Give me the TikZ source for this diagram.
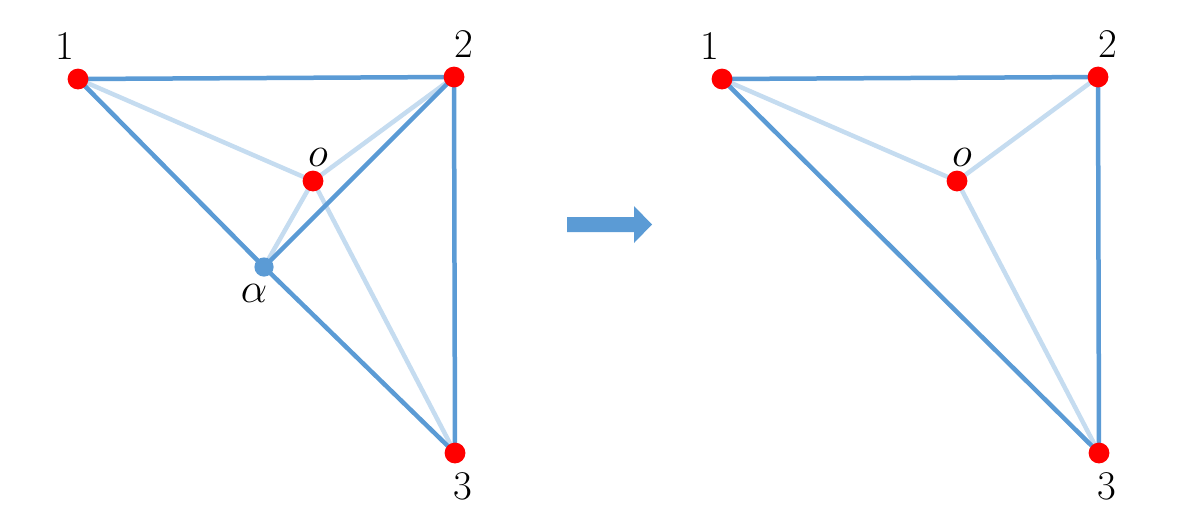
\documentclass[tikz,border=0pt]{standalone}
\usepackage{graphicx}
\definecolor{edgeblue}{RGB}{91,155,213}
\definecolor{paleblue}{RGB}{197,220,240}
\tikzset{
	dark/.style={draw=edgeblue,line width=3.2pt},
	pale/.style={draw=paleblue,line width=3.2pt},
	vtx/.style={circle,fill=red,inner sep=0pt,minimum size=0.52cm},
	avtx/.style={circle,fill=edgeblue,inner sep=0pt,minimum size=0.48cm},
	lab/.style={font=\fontsize{29}{34}\selectfont,inner sep=0pt}
}
\newcommand{\biglab}[1]{\scalebox{1.2}{$#1$}}
\begin{document}
\begin{tikzpicture}[x=0.025cm,y=-0.025cm]
\useasboundingbox (0,0) rectangle (1203,521);
% left graph
\coordinate (l1) at (78,79);
\coordinate (l2) at (454,77);
\coordinate (l3) at (455,453);
\coordinate (lo) at (313,181);
\coordinate (la) at (264,267);
\draw[pale] (l1) -- (lo) (l2) -- (lo) (lo) -- (la) (lo) -- (l3);
\draw[dark] (l1) -- (l2) -- (l3) (l1) -- (la) -- (l3) (la) -- (l2);
\node[vtx] (n1) at (l1) {};
\node[vtx] (n2) at (l2) {};
\node[vtx] (n3) at (l3) {};
\node[vtx] (no) at (lo) {};
\node[avtx] (na) at (la) {};
\path
	(65,46) node[lab] (t1) {1}
	(464,44) node[lab] (t2) {2}
	(463,486) node[lab] (t3) {3}
	(318,157) node[lab] (to) {\biglab{o}}
	(254,293) node[lab] (ta) {\biglab{\alpha}};
% arrow
\fill[edgeblue] (567,217) -- (634,217) -- (634,206) -- (652,224.5) -- (634,243) -- (634,232) -- (567,232) -- cycle;
% right graph
\coordinate (r1) at (722,79);
\coordinate (r2) at (1098,77);
\coordinate (r3) at (1099,453);
\coordinate (ro) at (957,181);
\draw[pale] (r1) -- (ro) (r2) -- (ro) (ro) -- (r3);
\draw[dark] (r1) -- (r2) -- (r3) -- (r1);
\node[vtx] (m1) at (r1) {};
\node[vtx] (m2) at (r2) {};
\node[vtx] (m3) at (r3) {};
\node[vtx] (mo) at (ro) {};
\path
	(710,46) node[lab] (s1) {1}
	(1108,44) node[lab] (s2) {2}
	(1107,486) node[lab] (s3) {3}
	(962,157) node[lab] (so) {\biglab{o}};
\end{tikzpicture}
\end{document}
